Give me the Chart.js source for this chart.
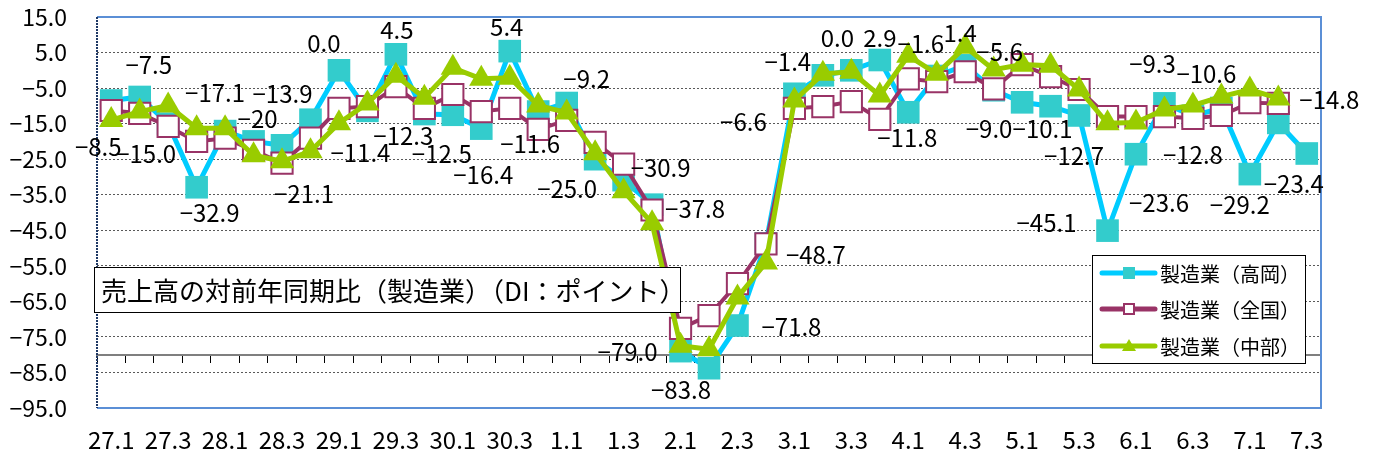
<!DOCTYPE html>
<html>
<head>
<meta charset="utf-8">
<script src="https://cdn.jsdelivr.net/npm/chart.js@4/dist/chart.umd.min.js"></script>
<style>
  html, body { margin: 0; padding: 0; background: #fff; }
  #wrap { width: 1376px; height: 459px; position: relative; }
</style>
</head>
<body>
<div id="wrap"><canvas id="di-chart"></canvas></div>
<script>
// quarters, Heisei 27.1 .. Reiwa 7.3
const quarters = [
  "27.1","27.2","27.3","27.4","28.1","28.2","28.3","28.4","29.1","29.2","29.3","29.4",
  "30.1","30.2","30.3","30.4","1.1","1.2","1.3","1.4","2.1","2.2","2.3","2.4",
  "3.1","3.2","3.3","3.4","4.1","4.2","4.3","4.4","5.1","5.2","5.3","5.4",
  "6.1","6.2","6.3","6.4","7.1","7.2","7.3"
];

const takaoka = [
  -8.5, -7.5, -15.0, -32.9, -17.1, -20, -21.1, -13.9, 0.0, -11.4, 4.5, -12.3,
  -12.5, -16.4, 5.4, -11.6, -9.2, -25.0, -30.9, -37.8, -79.0, -83.8, -71.8, -48.7,
  -6.6, -1.4, 0.0, 2.9, -11.8, -1.6, 1.4, -5.6, -9.0, -10.1, -12.7, -45.1,
  -23.6, -9.3, -12.8, -10.6, -29.2, -14.8, -23.4
];

const zenkoku = [
  -11.3, -12.1, -15.8, -20.0, -19.1, -22.5, -26.1, -19.1, -10.7, -10.2, -4.6, -10.7,
  -6.8, -11.6, -10.7, -16.6, -14.1, -20.3, -26.4, -39.3, -72.6, -69.0, -60.0, -48.8,
  -10.7, -10.2, -8.8, -13.8, -2.4, -3.2, -0.4, -5.2, 1.6, -1.8, -5.4, -13.0,
  -13.0, -13.0, -13.5, -12.7, -9.1, -9.3
];

const chubu = [
  -14.0, -11.6, -9.9, -16.3, -16.3, -23.9, -25.6, -22.8, -14.9, -9.3, -1.5, -7.7,
  0.7, -2.4, -2.1, -9.9, -11.9, -23.3, -34.0, -43.0, -77.5, -78.5, -63.9, -54.1,
  -8.5, -1.0, -0.4, -7.1, 4.1, -1.0, 6.6, 0.2, 1.6, 1.3, -5.4, -14.9,
  -14.7, -11.0, -9.9, -7.4, -5.4, -7.9
];

const seriesNames = ["製造業（高岡）", "製造業（全国）", "製造業（中部）"];
const chartTitle = "売上高の対前年同期比（製造業）（DI：ポイント）";

// the one 高岡 label printed without a decimal in the source ("-20")
const noDecimal = [5];

// where each 高岡 value label sits relative to its point (px)
const labelOffsets = [
  [-13, 46], [9, -32], [-22, 30], [13, 26], [-10, -38], [4, -23], [22, 49], [-28, -26],
  [-15, -27], [-7, 42], [1, -24], [-21, 22], [-11, 39], [2, 46], [-3, -24], [-8, 32],
  [20, -24], [-28, 30], [37, -12], [43, 4], [-53, 1], [-28, 22], [54, 1], [50, 11],
  [-51, 28], [-35, -13], [-14, -32], [0, -22], [-1, 26], [-16, -32], [-5, -32], [6, -38],
  [-33, 27], [-8, 23], [-5, 40], [-61, -8], [23, 49], [-12, -40], [0, 39], [-15, -34],
  [-10, 31], [51, -23], [-13, 30]
];

const FONT = '"Noto Sans CJK JP", "Noto Sans", sans-serif';
const CYAN_LINE = "#00ccff", CYAN_MARK = "#33cccc";
const MAROON = "#993366", GREEN = "#99cc00";

function fmtVal(v, i) {
  const s = noDecimal.includes(i) ? String(v) : v.toFixed(1);
  return s.replace("-", "−");
}

const overlay = {
  id: "overlay",
  beforeDatasetsDraw(chart) {
    const { ctx, chartArea: a } = chart;
    ctx.save();
    ctx.strokeStyle = "#5b8fd6";
    ctx.lineWidth = 2;
    ctx.beginPath();
    ctx.moveTo(a.left, a.top);
    ctx.lineTo(a.right, a.top);
    ctx.lineTo(a.right, a.bottom);
    ctx.lineTo(a.left, a.bottom);
    ctx.stroke();
    ctx.strokeStyle = "#1f3864";
    ctx.setLineDash([2, 1]);
    ctx.beginPath();
    ctx.moveTo(a.left, a.top);
    ctx.lineTo(a.left, a.bottom);
    ctx.stroke();
    ctx.restore();
  },
  afterDatasetsDraw(chart) {
    const { ctx } = chart;
    const meta = chart.getDatasetMeta(0);
    ctx.save();
    ctx.font = "24px " + FONT;
    ctx.fillStyle = "#000";
    ctx.textAlign = "center";
    ctx.textBaseline = "middle";
    meta.data.forEach((pt, i) => {
      const off = labelOffsets[i] || [0, -25];
      ctx.fillText(fmtVal(takaoka[i], i), pt.x + off[0], pt.y + off[1]);
    });

    // title box
    ctx.fillStyle = "#fff";
    ctx.fillRect(94, 267, 586, 45);
    ctx.strokeStyle = "#000";
    ctx.lineWidth = 1;
    ctx.strokeRect(94.5, 267.5, 586, 45);
    ctx.fillStyle = "#000";
    ctx.textAlign = "left";
    ctx.font = "26px " + FONT;
    ctx.fillText(chartTitle, 101, 291);

    // legend box
    ctx.fillStyle = "#fff";
    ctx.fillRect(1092, 255, 213, 108);
    ctx.strokeRect(1092.5, 255.5, 213, 108);
    const rows = [273, 309, 346];
    const lineCols = [CYAN_LINE, MAROON, GREEN];
    ctx.font = "20px " + FONT;
    rows.forEach((y, k) => {
      ctx.strokeStyle = lineCols[k];
      ctx.lineWidth = 5;
      ctx.lineCap = "round";
      ctx.beginPath();
      ctx.moveTo(1102, y);
      ctx.lineTo(1155, y);
      ctx.stroke();
      const cx = 1129;
      if (k === 0) {
        ctx.fillStyle = CYAN_MARK;
        ctx.fillRect(cx - 6, y - 6, 12, 12);
      } else if (k === 1) {
        ctx.fillStyle = "#fff";
        ctx.fillRect(cx - 5, y - 5, 10, 10);
        ctx.strokeStyle = MAROON;
        ctx.lineWidth = 2;
        ctx.strokeRect(cx - 5, y - 5, 10, 10);
      } else {
        ctx.fillStyle = GREEN;
        ctx.beginPath();
        ctx.moveTo(cx, y - 7);
        ctx.lineTo(cx + 7, y + 5);
        ctx.lineTo(cx - 7, y + 5);
        ctx.closePath();
        ctx.fill();
      }
      ctx.fillStyle = "#000";
      ctx.fillText(seriesNames[k], 1160, y + 1);
    });
    ctx.restore();
  }
};

const chart = new Chart(document.getElementById("di-chart"), {
  type: "line",
  data: {
    labels: quarters,
    datasets: [
      {
        label: seriesNames[0],
        data: takaoka,
        order: 3,
        borderColor: CYAN_LINE,
        borderWidth: 5,
        pointStyle: "rect",
        pointRadius: 16,
        pointBackgroundColor: CYAN_MARK,
        pointBorderColor: CYAN_MARK,
        pointBorderWidth: 0,
        tension: 0
      },
      {
        label: seriesNames[1],
        data: zenkoku,
        order: 2,
        borderColor: MAROON,
        borderWidth: 4,
        pointStyle: "rect",
        pointRadius: 15,
        pointBackgroundColor: "#fff",
        pointBorderColor: MAROON,
        pointBorderWidth: 2,
        tension: 0
      },
      {
        label: seriesNames[2],
        data: chubu,
        order: 1,
        borderColor: GREEN,
        borderWidth: 5,
        pointStyle: "triangle",
        pointRadius: 14,
        pointBackgroundColor: GREEN,
        pointBorderColor: GREEN,
        pointBorderWidth: 0,
        tension: 0
      }
    ]
  },
  options: {
    responsive: true,
    maintainAspectRatio: false,
    animation: false,
    events: [],
    layout: { padding: { left: 0, right: 55, top: 15, bottom: 0 } },
    plugins: { legend: { display: false }, tooltip: { enabled: false } },
    scales: {
      x: {
        type: "category",
        offset: true,
        grid: { display: false, drawTicks: false, offset: true },
        border: { display: false },
        ticks: {
          autoSkip: false,
          maxRotation: 0,
          padding: 17,
          color: "#000",
          font: { family: FONT, size: 24 },
          callback: (v, i) => (i % 2 === 0 ? quarters[i] : "")
        },
        afterFit: (s) => { s.height = 51; }
      },
      xAxisLine: {
        type: "category",
        axis: "x",
        position: { y: -80 },
        offset: true,
        grid: {
          drawOnChartArea: false,
          drawTicks: true,
          tickLength: 7,
          offset: true,
          tickColor: "#000",
          tickWidth: 1
        },
        border: { display: true, color: "#7f7f7f", width: 2 },
        ticks: { display: false }
      },
      y: {
        min: -95,
        max: 15,
        ticks: {
          stepSize: 10,
          padding: 30,
          color: "#000",
          font: { family: FONT, size: 23 },
          callback: (v) => Number(v).toFixed(1).replace("-", "−")
        },
        grid: {
          color: (c) => (c.tick && (c.tick.value === 15 || c.tick.value === -95) ? "rgba(0,0,0,0)" : "#595959"),
          lineWidth: 1,
          drawTicks: false
        },
        border: { display: false, dash: [2, 2] },
        afterFit: (s) => {
          s.width = 97;
          s.paddingTop = 0;
          s.paddingBottom = 0;
        }
      }
    }
  },
  plugins: [overlay]
});
</script>
</body>
</html>
